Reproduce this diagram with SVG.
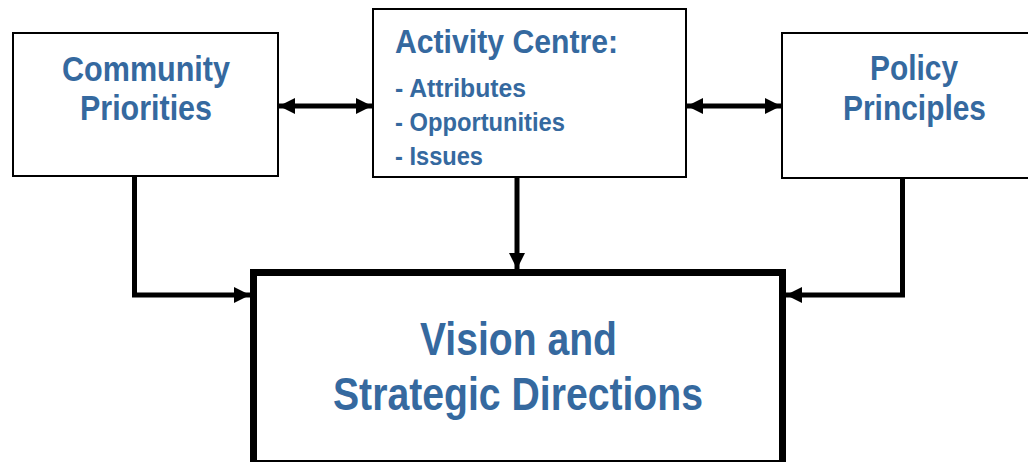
<svg xmlns="http://www.w3.org/2000/svg" width="1028" height="462" viewBox="0 0 1028 462">
<style>
.box{fill:#fff;stroke:#000;stroke-width:2}
.big{fill:#fff;stroke:#000;stroke-width:7}
.t{font-family:"Liberation Sans Narrow","Liberation Sans",Arial,sans-serif;font-weight:bold;fill:#35699F}
.c{stroke:#000;stroke-width:5;fill:none}
</style>
<defs>
<marker id="ah" viewBox="0 0 10 10" refX="10" refY="5" markerWidth="3.2" markerHeight="3.4" markerUnits="strokeWidth" orient="auto-start-reverse">
<path d="M0,0 L10,5 L0,10 z" fill="#000"/>
</marker>
</defs>
<g id="community">
<rect class="box" x="13" y="33" width="265" height="143"/>
<text class="t" font-size="35" x="62" y="81" textLength="168" lengthAdjust="spacingAndGlyphs">Community</text>
<text class="t" font-size="35" x="80" y="120" textLength="132" lengthAdjust="spacingAndGlyphs">Priorities</text>
</g>
<g id="activity">
<rect class="box" x="373" y="9" width="313" height="168"/>
<text class="t" font-size="33" x="395" y="53" textLength="223" lengthAdjust="spacingAndGlyphs">Activity Centre:</text>
<text class="t" font-size="25" x="395" y="97" textLength="131" lengthAdjust="spacingAndGlyphs">-  Attributes</text>
<text class="t" font-size="25" x="395" y="131" textLength="170" lengthAdjust="spacingAndGlyphs">- Opportunities</text>
<text class="t" font-size="25" x="395" y="165" textLength="88" lengthAdjust="spacingAndGlyphs">- Issues</text>
</g>
<g id="policy">
<rect class="box" x="782" y="33" width="260" height="145"/>
<text class="t" font-size="35" x="870" y="80" textLength="88" lengthAdjust="spacingAndGlyphs">Policy</text>
<text class="t" font-size="35" x="843" y="120" textLength="143" lengthAdjust="spacingAndGlyphs">Principles</text>
</g>
<g id="vision">
<rect class="big" x="253.5" y="272.5" width="529" height="191"/>
<text class="t" font-size="46" x="420" y="355" textLength="197" lengthAdjust="spacingAndGlyphs">Vision and</text>
<text class="t" font-size="46" x="333" y="410" textLength="370" lengthAdjust="spacingAndGlyphs">Strategic Directions</text>
</g>
<g id="connectors">
<line class="c" x1="279" y1="106" x2="372" y2="106" marker-start="url(#ah)" marker-end="url(#ah)"/>
<line class="c" x1="687" y1="106" x2="781" y2="106" marker-start="url(#ah)" marker-end="url(#ah)"/>
<polyline class="c" points="134.5,177 134.5,295 250,295" marker-end="url(#ah)"/>
<polyline class="c" points="902.5,178 902.5,295 786,295" marker-end="url(#ah)"/>
<line class="c" x1="517" y1="178" x2="517" y2="269" marker-end="url(#ah)"/>
</g>
</svg>
